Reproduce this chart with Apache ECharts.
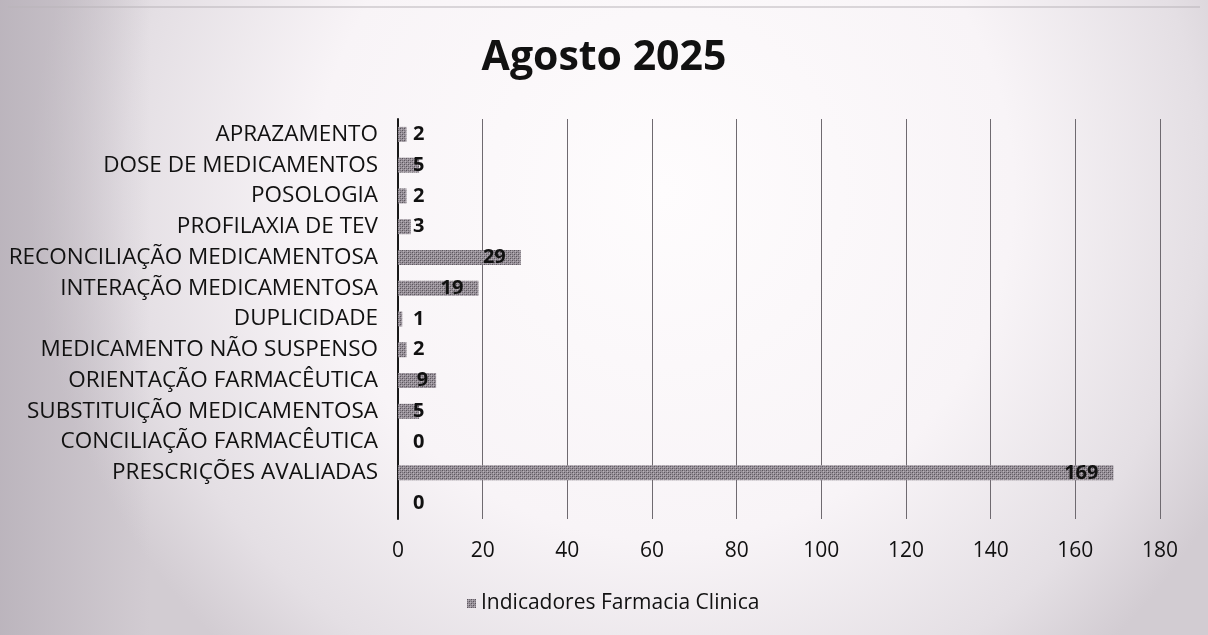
<!DOCTYPE html>
<html>
<head>
<meta charset="utf-8">
<script src="https://cdn.jsdelivr.net/npm/echarts@6/dist/echarts.min.js"></script>
<style>
  html, body { margin: 0; padding: 0; background: #f3eff2; }
  #chart { width: 1208px; height: 635px; }
</style>
</head>
<body>
<div id="chart"></div>
<script>
// Indicadores de farmácia clínica, agosto de 2025
const categories = [
  'APRAZAMENTO',
  'DOSE DE MEDICAMENTOS',
  'POSOLOGIA',
  'PROFILAXIA DE TEV',
  'RECONCILIAÇÃO MEDICAMENTOSA',
  'INTERAÇÃO MEDICAMENTOSA',
  'DUPLICIDADE',
  'MEDICAMENTO NÃO SUSPENSO',
  'ORIENTAÇÃO FARMACÊUTICA',
  'SUBSTITUIÇÃO MEDICAMENTOSA',
  'CONCILIAÇÃO FARMACÊUTICA',
  'PRESCRIÇÕES AVALIADAS',
  ''
];
const values = [2, 5, 2, 3, 29, 19, 1, 2, 9, 5, 0, 169, 0];
const seriesName = 'Indicadores Farmacia Clinica';
const xTicks = [0, 20, 40, 60, 80, 100, 120, 140, 160, 180];

// speckled grey fill for the bars
function makePattern() {
  const c = document.createElement('canvas');
  c.width = 4; c.height = 4;
  const g = c.getContext('2d');
  g.fillStyle = '#99929a';
  g.fillRect(0, 0, 4, 4);
  g.fillStyle = '#5a545c';
  g.fillRect(0, 0, 1, 1);
  g.fillRect(2, 2, 1, 1);
  g.fillStyle = '#767078';
  g.fillRect(2, 0, 1, 1);
  g.fillRect(0, 2, 1, 1);
  g.fillStyle = '#b8b1b9';
  g.fillRect(1, 1, 1, 1);
  g.fillRect(3, 3, 1, 1);
  return c;
}
const pattern = { image: makePattern(), repeat: 'repeat' };

const font = '"Open Sans", Lato, sans-serif';

const barData = values.map(v => ({
  value: v,
  label: v >= 9
    ? { position: 'insideRight', distance: v >= 19 ? 15 : 8 }
    : { position: 'insideLeft', distance: 15 }
}));

const chart = echarts.init(document.getElementById('chart'));
chart.setOption({
  backgroundColor: {
    type: 'radial', x: 0.55, y: 0.3, r: 1.0,
    colorStops: [
      { offset: 0, color: '#fefcfd' },
      { offset: 0.55, color: '#f8f4f7' },
      { offset: 0.85, color: '#e4dfe4' },
      { offset: 1, color: '#d2ccd2' }
    ]
  },
  graphic: [
    {
      // greyer band along the left edge
      type: 'rect',
      shape: { x: 0, y: 0, width: 150, height: 635 },
      style: {
        fill: {
          type: 'linear', x: 0, y: 0, x2: 1, y2: 0,
          colorStops: [
            { offset: 0, color: 'rgba(180,173,182,0.75)' },
            { offset: 1, color: 'rgba(180,173,182,0)' }
          ]
        }
      },
      z: -10
    },
    {
      type: 'line',
      shape: { x1: 8, y1: 7, x2: 1200, y2: 7 },
      style: { stroke: '#b9b4b9', lineWidth: 1 }
    }
  ],
  title: {
    text: 'Agosto 2025',
    left: 'center',
    top: 33,
    textStyle: { fontFamily: font, fontWeight: 'bold', fontSize: 41, color: '#111' }
  },
  legend: {
    bottom: 16,
    left: 462,
    itemWidth: 9,
    itemHeight: 9,
    icon: 'rect',
    textStyle: { fontFamily: font, fontSize: 21, color: '#111' },
    data: [seriesName]
  },
  grid: { left: 398, right: 48, top: 119, bottom: 116 },
  xAxis: {
    type: 'value',
    min: 0, max: 180, interval: 20,
    axisLine: { show: false },
    axisTick: { show: false },
    axisLabel: {
      fontFamily: font, fontSize: 21, color: '#111', margin: 22,
      formatter: v => xTicks.includes(v) ? String(v) : ''
    },
    splitLine: { show: true, lineStyle: { color: '#6f6a70', width: 1 } }
  },
  yAxis: {
    type: 'category',
    inverse: true,
    data: categories,
    axisLine: { show: true, lineStyle: { color: '#1a1a1a', width: 2 } },
    axisTick: { show: false },
    axisLabel: { fontFamily: font, fontSize: 22.5, color: '#111', margin: 20 }
  },
  series: [{
    name: seriesName,
    type: 'bar',
    data: barData,
    barWidth: 15,
    itemStyle: { color: pattern },
    label: {
      show: true,
      fontFamily: font,
      fontWeight: 'bold',
      fontSize: 20,
      color: '#111'
    }
  }]
});
</script>
</body>
</html>
